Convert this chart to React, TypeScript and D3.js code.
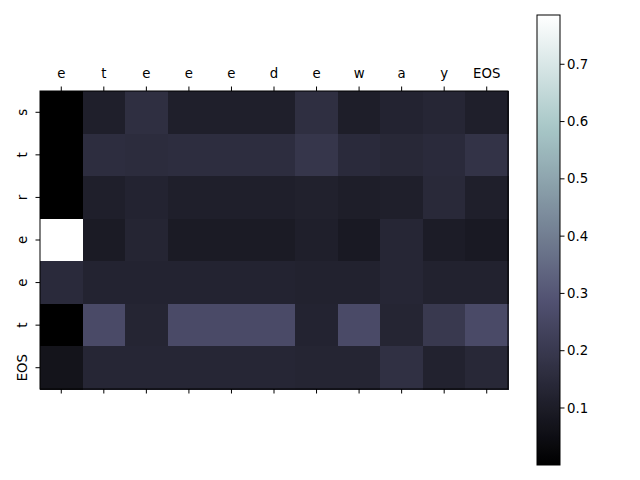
import React from 'react';
import * as d3 from 'd3';

// tokens on each axis
const colLabels = ['e', 't', 'e', 'e', 'e', 'd', 'e', 'w', 'a', 'y', 'EOS'];
const rowLabels = ['s', 't', 'r', 'e', 'e', 't', 'EOS'];

// attention weights, one array per row
const rowS = [0.0, 0.11, 0.165, 0.11, 0.11, 0.11, 0.165, 0.105, 0.125, 0.135, 0.11];
const rowT = [0.0, 0.16, 0.155, 0.16, 0.16, 0.16, 0.19, 0.15, 0.14, 0.15, 0.18];
const rowR = [0.0, 0.11, 0.125, 0.11, 0.11, 0.11, 0.115, 0.105, 0.11, 0.145, 0.11];
const rowE1 = [0.786, 0.095, 0.13, 0.095, 0.095, 0.095, 0.11, 0.09, 0.135, 0.1, 0.09];
const rowE2 = [0.15, 0.125, 0.125, 0.125, 0.125, 0.125, 0.12, 0.12, 0.135, 0.12, 0.12];
const rowT2 = [0.0, 0.26, 0.13, 0.26, 0.26, 0.26, 0.125, 0.26, 0.13, 0.2, 0.26];
const rowEOS = [0.07, 0.135, 0.135, 0.135, 0.135, 0.135, 0.13, 0.13, 0.17, 0.12, 0.14];
const matrix = [rowS, rowT, rowR, rowE1, rowE2, rowT2, rowEOS];

const cbTicks = [0.1, 0.2, 0.3, 0.4, 0.5, 0.6, 0.7];
const vmin = 0.0005;
const vmax = 0.786;

// matplotlib 'bone' colormap segments
const boneR = d3.scaleLinear([0, 0.746032, 1], [0, 0.652778, 1]);
const boneG = d3.scaleLinear([0, 0.365079, 0.746032, 1], [0, 0.319444, 0.777778, 1]);
const boneB = d3.scaleLinear([0, 0.365079, 1], [0, 0.444444, 1]);
const bone = (t: number) => {
  const u = Math.max(0, Math.min(1, t));
  return d3.rgb(boneR(u) * 255, boneG(u) * 255, boneB(u) * 255).formatHex();
};

const font = 'DejaVu Sans, sans-serif';

export default function App() {
  const left = 40, right = 508, top = 91, bottom = 389;
  const x = d3.scaleBand<number>().domain(d3.range(colLabels.length)).range([left, right]);
  const y = d3.scaleBand<number>().domain(d3.range(rowLabels.length)).range([top, bottom]);
  const norm = d3.scaleLinear([vmin, vmax], [0, 1]);

  const cbX = 537, cbW = 23, cbTop = 15, cbBottom = 465;
  const cy = d3.scaleLinear([vmin, vmax], [cbBottom, cbTop]);
  const stops = d3.range(0, 1.0001, 0.02);

  return (
    <svg width={640} height={480} style={{ position: 'absolute', left: 0, top: 0 }} fontFamily={font}>
      <defs>
        <linearGradient id="cb" x1="0" y1="1" x2="0" y2="0">
          {stops.map(s => <stop key={s} offset={s} stopColor={bone(s)} />)}
        </linearGradient>
      </defs>
      <rect width={640} height={480} fill="#fff" />
      <g shapeRendering="crispEdges">
        {matrix.map((row, i) =>
          row.map((v, j) => (
            <rect key={`${i}-${j}`} x={x(j)} y={y(i)} width={x.bandwidth() + 0.6}
              height={y.bandwidth() + 0.6} fill={bone(norm(v))} />
          ))
        )}
      </g>
      <rect x={left} y={top} width={right - left} height={bottom - top} fill="none" stroke="#000" strokeWidth={1} />
      {colLabels.map((c, j) => {
        const cx = x(j)! + x.bandwidth() / 2;
        return (
          <g key={j}>
            <line x1={cx} x2={cx} y1={top} y2={top - 4.5} stroke="#000" />
            <line x1={cx} x2={cx} y1={bottom} y2={bottom + 4.5} stroke="#000" />
            <text x={cx} y={top - 13} textAnchor="middle" fontSize={13.3} fill="#000">{c}</text>
          </g>
        );
      })}
      {rowLabels.map((r, i) => {
        const ry = y(i)! + y.bandwidth() / 2;
        return (
          <g key={i}>
            <line x1={left} x2={left - 4.5} y1={ry} y2={ry} stroke="#000" />
            <text transform={`translate(${left - 13},${ry}) rotate(-90)`} textAnchor="middle"
              fontSize={13.3} fill="#000">{r}</text>
          </g>
        );
      })}
      <rect x={cbX} y={cbTop} width={cbW} height={cbBottom - cbTop} fill="url(#cb)" stroke="#000" strokeWidth={1} />
      {cbTicks.map(t => (
        <g key={t}>
          <line x1={cbX + cbW} x2={cbX + cbW + 4.5} y1={cy(t)} y2={cy(t)} stroke="#000" />
          <text x={cbX + cbW + 7} y={cy(t)} dy="0.35em" fontSize={13.3} fill="#000">{t.toFixed(1)}</text>
        </g>
      ))}
    </svg>
  );
}
